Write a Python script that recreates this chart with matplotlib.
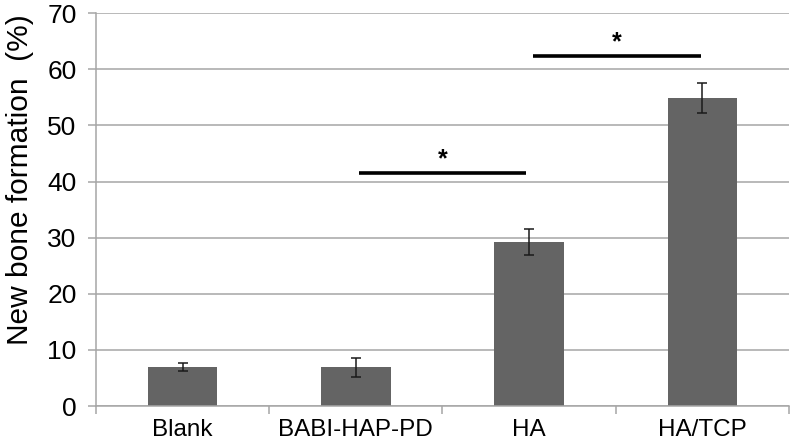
import numpy as np
from matplotlib import pyplot as plt

plt.rcParams['font.family'] = ['Liberation Sans', 'DejaVu Sans']

groups = ['Blank', 'BABI-HAP-PD', 'HA', 'HA/TCP']
means = [7.0, 6.9, 29.2, 54.9]
errors = [0.7, 1.7, 2.3, 2.6]

# significance brackets: (x start, x end, height)
sig_pairs = [(1.02, 1.98, 41.6), (2.02, 2.99, 62.3)]

x = np.arange(len(groups))

fig = plt.figure(figsize=(7.92, 4.42), dpi=100)
ax = fig.add_axes([0.1212, 0.0814, 0.8750, 0.8886])

ax.set_axisbelow(True)
ax.yaxis.grid(True, color='#a6a6a6', linewidth=1.1)
ax.bar(x, means, width=0.4, color='#646464', zorder=2)
ax.errorbar(x, means, yerr=errors, fmt='none', ecolor='#1a1a1a',
            elinewidth=1.1, capsize=3.5, capthick=1.1, zorder=3)

for x0, x1, h in sig_pairs:
    ax.plot([x0, x1], [h, h], color='black', linewidth=2.6, solid_capstyle='butt')
    ax.text((x0 + x1) / 2, h + 0.3, '*', ha='center', va='bottom',
            fontsize=18, fontweight='bold')

ax.set_xlim(-0.5, 3.5)
ax.set_ylim(0, 70)
ax.set_yticks(np.arange(0, 71, 10))
ax.set_xticks(np.arange(-0.5, 4, 1))
ax.set_xticklabels([])
ax.set_xticks(x, minor=True)
ax.set_xticklabels(groups, minor=True, fontsize=17.5)
ax.tick_params(axis='x', which='minor', length=0, pad=9)
ax.tick_params(axis='x', which='major', length=6, color='#a6a6a6', width=1.1)
ax.tick_params(axis='y', length=6, color='#a6a6a6', width=1.1, pad=8,
               labelsize=19)

for side in ['top', 'right']:
    ax.spines[side].set_visible(False)
for side in ['left', 'bottom']:
    ax.spines[side].set_color('#a6a6a6')
    ax.spines[side].set_linewidth(1.1)

fig.text(0.025, 0.593, 'New bone formation  (%)', rotation=90,
         ha='center', va='center', fontsize=21.5)

fig.savefig('out.png', dpi=100)
plt.close()
